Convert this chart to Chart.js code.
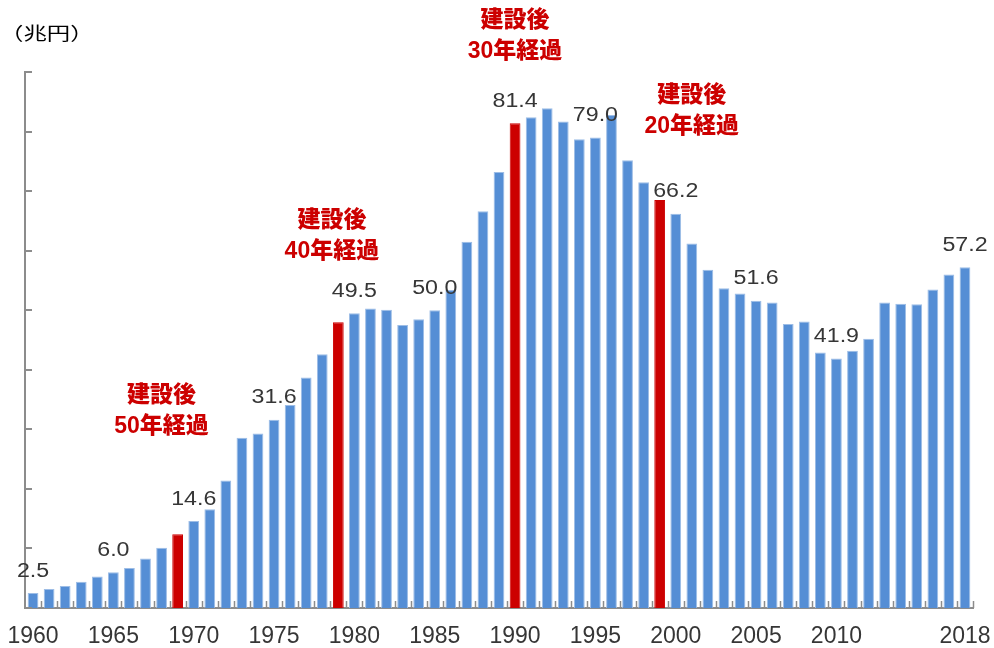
<!DOCTYPE html>
<html lang="ja">
<head>
    <meta charset="UTF-8">
    <title>公共投資額の推移</title>
    <style>
        html, body { margin: 0; padding: 0; background: #fff; }
        #wrap { width: 994px; height: 648px; position: relative; }
    </style>
    <script src="https://cdn.jsdelivr.net/npm/chart.js"></script>
</head>
<body>
    <div id="wrap"><canvas id="chart" width="994" height="648"></canvas></div>

    <script>
        // 年度（カテゴリ）
        const years = [
            1960, 1961, 1962, 1963, 1964, 1965, 1966, 1967, 1968, 1969,
            1970, 1971, 1972, 1973, 1974, 1975, 1976, 1977, 1978, 1979,
            1980, 1981, 1982, 1983, 1984, 1985, 1986, 1987, 1988, 1989,
            1990, 1991, 1992, 1993, 1994, 1995, 1996, 1997, 1998, 1999,
            2000, 2001, 2002, 2003, 2004, 2005, 2006, 2007, 2008, 2009,
            2010, 2011, 2012, 2013, 2014, 2015, 2016, 2017, 2018
        ];

        // 投資額（兆円）
        const amounts = [
            2.5, 3.2, 3.7, 4.4, 5.3, 6.0, 6.7, 8.3, 10.1, 12.4,
            14.6, 16.6, 21.4, 28.6, 29.3, 31.6, 34.1, 38.7, 42.6, 48.0,
            49.5, 50.3, 50.1, 47.5, 48.5, 50.0, 53.4, 61.5, 66.6, 73.2,
            81.4, 82.4, 83.9, 81.7, 78.7, 79.0, 82.8, 75.2, 71.5, 68.5,
            66.2, 61.2, 56.8, 53.7, 52.8, 51.6, 51.3, 47.7, 48.1, 42.9,
            41.9, 43.2, 45.2, 51.3, 51.1, 51.0, 53.5, 56.0, 57.2
        ];

        // 赤で強調する年
        const redYears = [1969, 1979, 1990, 1999];

        // 値ラベルを付ける年
        const labelYears = [1960, 1965, 1970, 1975, 1980, 1985, 1990, 1995, 2000, 2005, 2010, 2018];

        // x軸に表示する目盛ラベル
        const tickLabels = ['1960', '1965', '1970', '1975', '1980', '1985', '1990', '1995', '2000', '2005', '2010', '2018'];

        // 注記（建設後○年経過）
        const noteLines = [
            ['建設後', '50年経過'],
            ['建設後', '40年経過'],
            ['建設後', '30年経過'],
            ['建設後', '20年経過']
        ];
        const noteYears = [1968, 1978.6, 1990, 2001];
        const noteValues = [35.6, 65.1, 98.7, 86.1];

        const BLUE = '#558ED5';
        const RED = '#CC0000';
        const AXIS = '#8C8C8C';

        const barColors = years.map(y => redYears.includes(y) ? RED : BLUE);
        const borderColors = years.map(y => redYears.includes(y) ? RED : '#9DBDE6');

        // x位置（小数の年にも対応）
        function xForYear(xs, year) {
            const i = years.indexOf(Math.floor(year));
            const frac = year - Math.floor(year);
            const x0 = xs.getPixelForValue(i);
            if (!frac) return x0;
            const x1 = xs.getPixelForValue(i + 1);
            return x0 + (x1 - x0) * frac;
        }

        const decorPlugin = {
            id: 'decor',
            afterDraw(chart) {
                const ctx = chart.ctx;
                const xs = chart.scales.x;
                const ys = chart.scales.y;
                const area = chart.chartArea;
                ctx.save();

                // y軸の内向き目盛
                ctx.strokeStyle = AXIS;
                ctx.lineWidth = 2;
                ys.ticks.forEach(t => {
                    const y = Math.round(ys.getPixelForValue(t.value));
                    ctx.beginPath();
                    ctx.moveTo(area.left, y);
                    ctx.lineTo(area.left + 7, y);
                    ctx.stroke();
                });

                // x軸のカテゴリ境界目盛
                ctx.lineWidth = 1.5;
                const step = (area.right - area.left) / years.length;
                for (let i = 1; i <= years.length; i++) {
                    const x = Math.round(area.left + step * i) + 0.5;
                    ctx.beginPath();
                    ctx.moveTo(x, area.bottom);
                    ctx.lineTo(x, area.bottom - 7);
                    ctx.stroke();
                }

                // 値ラベル
                const meta = chart.getDatasetMeta(0);
                ctx.fillStyle = '#363636';
                ctx.font = '20px "Liberation Sans", Arial, sans-serif';
                ctx.textAlign = 'center';
                ctx.textBaseline = 'middle';
                labelYears.forEach(yr => {
                    const i = years.indexOf(yr);
                    const bar = meta.data[i];
                    ctx.save();
                    ctx.translate(bar.x, bar.y - 22);
                    ctx.scale(1.16, 1);
                    ctx.fillText(amounts[i].toFixed(1), 0, 0);
                    ctx.restore();
                });

                // 注記
                ctx.fillStyle = RED;
                ctx.font = '900 23px "Liberation Sans", "Noto Sans CJK JP", sans-serif';
                noteLines.forEach((lines, k) => {
                    const x = xForYear(xs, noteYears[k]);
                    const y = ys.getPixelForValue(noteValues[k]);
                    lines.forEach((txt, j) => ctx.fillText(txt, x, y + j * 31));
                });

                // 単位
                ctx.fillStyle = '#000';
                ctx.font = '18px "Noto Sans CJK JP", sans-serif';
                ctx.textAlign = 'left';
                ctx.save();
                ctx.translate(0, 33);
                ctx.scale(1.3, 1);
                ctx.fillText('（兆円）', 0, 0);
                ctx.restore();

                ctx.restore();
            }
        };

        new Chart(document.getElementById('chart'), {
            type: 'bar',
            data: {
                labels: years,
                datasets: [{
                    data: amounts,
                    backgroundColor: barColors,
                    borderColor: borderColors,
                    borderWidth: 1,
                    borderSkipped: 'bottom',
                    categoryPercentage: 1.0,
                    barPercentage: 0.67
                }]
            },
            options: {
                responsive: false,
                animation: false,
                layout: { padding: { left: 25, right: 21, top: 72, bottom: 0 } },
                plugins: {
                    legend: { display: false },
                    tooltip: { enabled: false }
                },
                scales: {
                    x: {
                        grid: { display: false, drawTicks: false },
                        border: { color: AXIS, width: 2 },
                        afterFit: function (scale) {
                            scale.paddingLeft = 0;
                            scale.paddingRight = 0;
                            scale.height = 40;
                        },
                        ticks: {
                            autoSkip: false,
                            maxRotation: 0,
                            padding: 17,
                            color: '#363636',
                            font: { family: '"Liberation Sans", Arial, sans-serif', size: 23, lineHeight: 1 },
                            callback: function (value) {
                                const lab = String(years[value]);
                                return tickLabels.includes(lab) ? lab : '';
                            }
                        }
                    },
                    y: {
                        min: 0,
                        max: 90,
                        ticks: { display: false, stepSize: 10 },
                        grid: { display: false, drawTicks: false },
                        border: { color: AXIS, width: 2 }
                    }
                }
            },
            plugins: [decorPlugin]
        });
    </script>
</body>
</html>
